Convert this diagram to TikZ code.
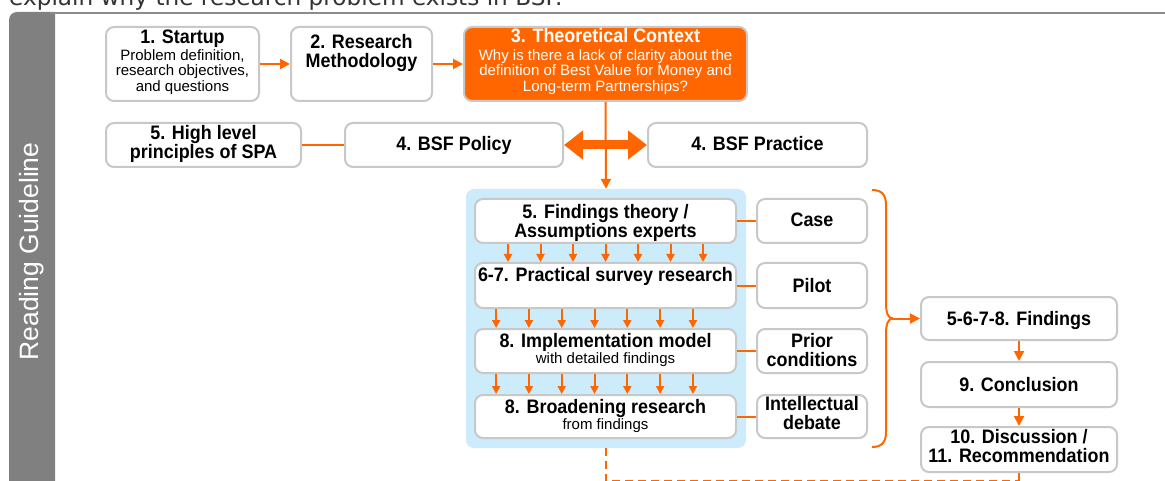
\documentclass[tikz,border=0pt]{standalone}
\usepackage{fontspec}
\setmainfont{Liberation Sans}
\newfontfamily\headfont{DejaVu Sans}
\newfontfamily\boxheadfont[FakeStretch=0.92]{Liberation Sans}
\usetikzlibrary{arrows.meta,fit,calc}
\definecolor{accent}{HTML}{FF6600}
\definecolor{frameline}{HTML}{C8C8C8}
\definecolor{panelblue}{HTML}{CCEBFB}
\definecolor{bargray}{HTML}{808080}
\definecolor{rulegray}{HTML}{8C8C8C}

\begin{document}
\begin{tikzpicture}[x=1pt,y=-1pt,
  box/.style={draw=frameline, line width=2pt, rounded corners=8pt, fill=white, inner sep=0pt},
  hd/.style={font=\boxheadfont\bfseries\fontsize{19.5}{18.8}\selectfont, align=center, inner sep=0pt},
  sm/.style={font=\fontsize{15}{15.5}\selectfont, align=center, inner sep=0pt},
  link/.style={draw=accent, line width=2pt},
  arr/.style={link, -{Triangle[length=10pt,width=10pt]}},
  droparrow/.style={link, -{Triangle[length=8pt,width=8pt]}},
]
\useasboundingbox (0,0) rectangle (1165,481);
\clip (0,0) rectangle (1165,481);

% running heading above the frame
\node[anchor=base west, inner sep=0pt, font=\headfont\fontsize{23.2}{23.2}\selectfont, text=black!80] (heading) at (9,6) {explain why the research problem exists in BSF.};

% frame: side bar and top rule
\fill[bargray] (9,500) [rounded corners=8pt] -- (9,12) [sharp corners] -- (55,12) -- (55,500) -- cycle;
\draw[rulegray, line width=2pt] (50,13) -- (1165,13);
\node[rotate=90, text=white, font=\fontsize{26.5}{26.5}\selectfont, inner sep=0pt] (guide) at (32,251.5) {Reading Guideline};

% light blue panel behind the research stack
\node[fill=panelblue, rounded corners=8pt, inner sep=0pt, fit={(466,189) (746,448)}] (panel) {};

% boxes
\node[box, fit={(106,27) (259,101)}] (startup) {};
\node[box, fit={(291,27) (432,101)}] (method) {};
\node[box, fill=accent, fit={(464,27) (747,101)}] (context) {};
\node[box, fit={(106,123) (301,167)}] (spa) {};
\node[box, fit={(345,123) (563,167)}] (policy) {};
\node[box, fit={(648,123) (867,167)}] (practice) {};
\node[box, fit={(475,199) (736,243)}] (theory) {};
\node[box, fit={(757,199) (867,243)}] (case) {};
\node[box, fit={(475,263) (736,308)}] (survey) {};
\node[box, fit={(757,263) (867,308)}] (pilot) {};
\node[box, fit={(475,329) (736,373)}] (impl) {};
\node[box, fit={(757,329) (867,373)}] (prior) {};
\node[box, fit={(475,395) (736,438)}] (broad) {};
\node[box, fit={(757,395) (867,438)}] (debate) {};
\node[box, fit={(921,297) (1117,340)}] (findings) {};
\node[box, fit={(921,362) (1117,407)}] (concl) {};
\node[box, fit={(921,427) (1117,472)}] (discuss) {};

% box texts
\node[hd, anchor=base] (startupT) at (182.5,44) {1. Startup};
\node[sm, anchor=north] (startupS) at (182.5,49.3) {Problem definition,\\research objectives,\\and questions};
\node[hd, anchor=north] (methodT) at (361.5,34) {2. Research\\Methodology};
\node[hd, anchor=base, text=white] (contextT) at (605.5,43) {3. Theoretical Context};
\node[sm, anchor=north, text=white] (contextS) at (605.5,49.3) {Why is there a lack of clarity about the\\definition of Best Value for Money and\\Long-term Partnerships?};
\node[hd, anchor=north] (spaT) at (203.5,125.5) {5. High level\\principles of SPA};
\node[hd, anchor=base] (policyT) at (454,151) {4. BSF Policy};
\node[hd, anchor=base] (practiceT) at (757.5,151) {4. BSF Practice};
\node[hd, anchor=north] (theoryT) at (605.5,204) {5. Findings theory /\\Assumptions experts};
\node[hd, anchor=base] (caseT) at (812,227) {Case};
\node[hd, anchor=base] (surveyT) at (605.5,281) {6-7. Practical survey research};
\node[hd, anchor=base] (pilotT) at (812,292) {Pilot};
\node[hd, anchor=base] (implT) at (605.5,347) {8. Implementation model};
\node[sm, anchor=base] (implS) at (605.5,363) {with detailed findings};
\node[hd, anchor=north] (priorT) at (812,333) {Prior\\conditions};
\node[hd, anchor=base] (broadT) at (605.5,413) {8. Broadening research};
\node[sm, anchor=base] (broadS) at (605.5,429) {from findings};
\node[hd, anchor=north] (debateT) at (812,396) {Intellectual\\debate};
\node[hd, anchor=base] (findingsT) at (1019,325) {5-6-7-8. Findings};
\node[hd, anchor=base] (conclT) at (1019,391) {9. Conclusion};
\node[hd, anchor=north] (discussT) at (1019,429) {10. Discussion /\\11. Recommendation};

% top row flow
\draw[arr] (startup) -- (method);
\draw[arr] (method) -- (context);
\draw[link] (spa) -- (policy);
\draw[arr] (context.south) -- (panel.north);
\draw[accent, line width=9pt, {Triangle[length=19pt,width=28pt]}-{Triangle[length=19pt,width=28pt]}] (policy.east) -- (practice.west);

% side links of the research stack
\draw[link] (theory) -- (case);
\draw[link] (survey) -- (pilot);
\draw[link] (impl) -- (prior);
\draw[link] (broad) -- (debate);

% rows of small arrows between stacked boxes
\foreach \i in {-3,...,3} {
  \draw[droparrow] ($(theory.south)+(\i*32.5,0)$) -- ($(survey.north)+(\i*32.5,0)$);
  \draw[droparrow] ($(survey.south)+(\i*32.8-11,0)$) -- ($(impl.north)+(\i*32.8-11,0)$);
  \draw[droparrow] ($(impl.south)+(\i*32.8-11,0)$) -- ($(broad.north)+(\i*32.8-11,0)$);
}

% curly bracket gathering the stack into the findings
\coordinate (brtop) at (872,190);
\coordinate (brbot) at (872,447);
\coordinate (brmid) at (893,318.5);
\draw[link] (brtop) .. controls (882,190) and (886,195) .. (886,205) -- (886,303) .. controls (886,313) and (888,318.5) .. (brmid);
\draw[link] (brbot) .. controls (882,447) and (886,442) .. (886,432) -- (886,334) .. controls (886,324) and (888,318.5) .. (brmid);
\draw[arr] (brmid) -- (findings.west);

% right column
\draw[arr] (findings) -- (concl);
\draw[arr] (concl) -- (discuss);

% feedback line along the bottom
\coordinate (dashcorner) at (606,481);
\draw[link, dash pattern=on 8pt off 5pt] (panel.south) -- (dashcorner) -- (discuss.south |- dashcorner);
\draw[link] (discuss.south) -- (discuss.south |- dashcorner);
\end{tikzpicture}
\end{document}
